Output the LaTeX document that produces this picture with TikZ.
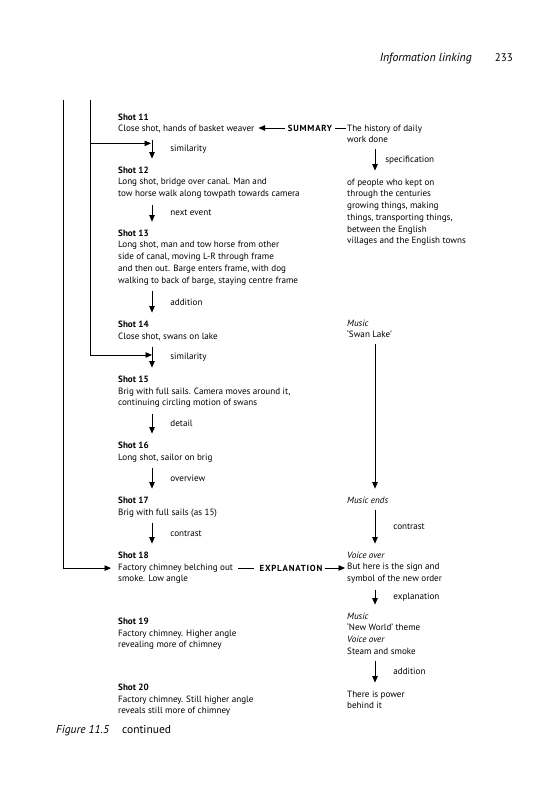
\documentclass[tikz,border=0pt]{standalone}
\usepackage{fontspec}
\setmainfont{PT Sans}
\newfontfamily\spacedfont[LetterSpace=9.0]{PT Sans}
\usetikzlibrary{arrows.meta,calc}

\tikzset{
  txt/.style={anchor=north west, inner sep=0pt, align=left, font=\fontsize{9.1}{11.7}\selectfont},
  lbl/.style={anchor=west, inner sep=0pt, xshift=18pt, font=\fontsize{9.1}{11.7}\selectfont},
  keyword/.style={inner sep=0pt, font=\fontsize{8.8}{11.7}\selectfont\spacedfont\bfseries},
  flow/.style={-{Triangle[length=6.5pt,width=5.5pt]}, line width=0.8pt},
  link/.style={line width=0.8pt},
}

\begin{document}
\begin{tikzpicture}[x=1pt,y=-1pt]
  \useasboundingbox (0,0) rectangle (533,800);
  % 页眉
  \node[anchor=base east, inner sep=0pt, font=\fontsize{11.8}{14}\selectfont\itshape] (head) at (472,62) {Information linking};
  \node[anchor=base east, inner sep=0pt, font=\fontsize{11}{14}\selectfont] (page) at (513,62) {233};
  % 左栏：镜头
  \node[txt] (s11) at (118,113.6) {\textbf{Shot 11}\\Close shot, hands of basket weaver};
  \node[txt] (s12) at (118,166.6) {\textbf{Shot 12}\\Long shot, bridge over canal. Man and\\tow horse walk along towpath towards camera};
  \node[txt] (s13) at (118,229.6) {\textbf{Shot 13}\\Long shot, man and tow horse from other\\side of canal, moving L-R through frame\\and then out. Barge enters frame, with dog\\walking to back of barge, staying centre frame};
  \node[txt] (s14) at (118,320.6) {\textbf{Shot 14}\\Close shot, swans on lake};
  \node[txt] (s15) at (118,375.6) {\textbf{Shot 15}\\Brig with full sails. Camera moves around it,\\continuing circling motion of swans};
  \node[txt] (s16) at (118,441.6) {\textbf{Shot 16}\\Long shot, sailor on brig};
  \node[txt] (s17) at (118,496.6) {\textbf{Shot 17}\\Brig with full sails (as 15)};
  \node[txt] (s18) at (118,551.6) {\textbf{Shot 18}\\Factory chimney belching out\\smoke. Low angle};
  \node[txt] (s19) at (118,617.6) {\textbf{Shot 19}\\Factory chimney. Higher angle\\revealing more of chimney};
  \node[txt] (s20) at (118,683.6) {\textbf{Shot 20}\\Factory chimney. Still higher angle\\reveals still more of chimney};
  % 右栏：解说与音乐
  \node[txt] (r1) at (347,124.6) {The history of daily\\work done};
  \node[txt] (r2) at (347,178.6) {of people who kept on\\through the centuries\\growing things, making\\things, transporting things,\\between the English\\villages and the English towns};
  \node[txt] (r3) at (347,319.6) {\textit{Music}\\`Swan Lake'};
  \node[txt] (r4) at (347,496.6) {\textit{Music ends}};
  \node[txt] (r5) at (347,551.6) {\textit{Voice over}\\But here is the sign and\\symbol of the new order};
  \node[txt] (r6) at (347,612.6) {\textit{Music}\\`New World' theme\\\textit{Voice over}\\Steam and smoke};
  \node[txt] (r7) at (347,690.6) {There is power\\behind it};
  % 左栏箭头
  \draw[flow] ([shift={(34,6)}]s11.south west) -- node[lbl] (l11) {similarity} coordinate[pos=0.2] (j11) ([shift={(34,-8)}]s12.north west);
  \draw[flow] ([shift={(34,6)}]s12.south west) -- node[lbl] (l12) {next event} ([shift={(34,-8)}]s13.north west);
  \draw[flow] ([shift={(34,6)}]s13.south west) -- node[lbl] (l13) {addition} ([shift={(34,-8)}]s14.north west);
  \draw[flow] ([shift={(34,6)}]s14.south west) -- node[lbl] (l14) {similarity} coordinate[pos=0.4] (j14) ([shift={(34,-8)}]s15.north west);
  \draw[flow] ([shift={(34,6)}]s15.south west) -- node[lbl] (l15) {detail} ([shift={(34,-8)}]s16.north west);
  \draw[flow] ([shift={(34,6)}]s16.south west) -- node[lbl] (l16) {overview} ([shift={(34,-8)}]s17.north west);
  \draw[flow] ([shift={(34,6)}]s17.south west) -- node[lbl] (l17) {contrast} ([shift={(34,-8)}]s18.north west);
  % 右栏箭头
  \draw[flow] ([shift={(28,6)}]r1.south west) -- node[lbl, xshift=-8pt] (m1) {specification} ([shift={(28,-8)}]r2.north west);
  \draw[flow] ([shift={(28,6)}]r3.south west) -- ([shift={(28,-8)}]r4.north west);
  \draw[flow] ([shift={(28,6)}]r4.south west) -- node[lbl] (m4) {contrast} ([shift={(28,-8)}]r5.north west);
  \draw[flow] ([shift={(28,6)}]r5.south west) -- node[lbl] (m5) {explanation} ([shift={(28,-8)}]r6.north west);
  \draw[flow] ([shift={(28,6)}]r6.south west) -- node[lbl] (m6) {addition} ([shift={(28,-8)}]r7.north west);
  % 左边的长线
  \coordinate (topA) at (63,100);
  \coordinate (topB) at (90,100);
  \coordinate (in18) at ($(s18.north west)+(-7,16.5)$);
  \draw[flow] (topB) |- (j14);
  \draw[flow, shorten >=1pt] (topB |- j11) -- (j11);
  \draw[flow] (topA) |- (in18);
  % SUMMARY 与 EXPLANATION
  \node[keyword] (sum) at (310,128) {SUMMARY};
  \draw[flow, shorten <=3pt, shorten >=4pt] (sum.west) -- (s11.east |- sum.west);
  \draw[link, shorten <=3pt, shorten >=1pt] (sum.east) -- (r1.west |- sum.east);
  \node[keyword] (expl) at (291,568) {EXPLANATION};
  \draw[link, shorten <=5pt, shorten >=5pt] (s18.east |- expl.west) -- (expl.west);
  \draw[flow, shorten <=2pt, shorten >=2pt] (expl.east) -- (r5.west |- expl.east);
  % 图题
  \node[anchor=base west, inner sep=0pt, font=\fontsize{11.5}{14}\selectfont] (cap) at (56,733) {\textit{Figure 11.5}\hspace{13pt}continued};
\end{tikzpicture}
\end{document}
